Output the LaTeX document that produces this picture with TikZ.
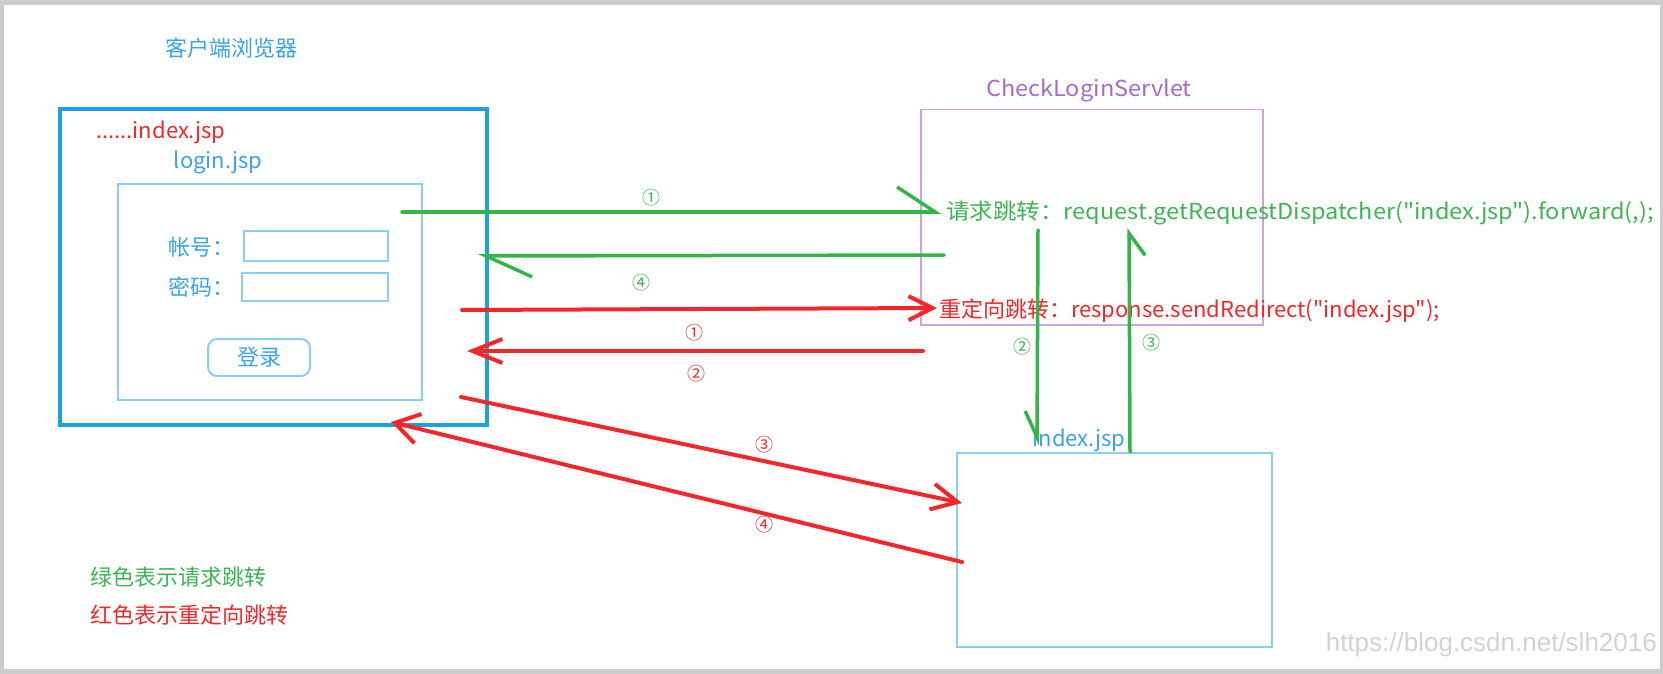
\documentclass[tikz,border=0pt]{standalone}
\usepackage{fontspec}
\setmainfont{Noto Sans CJK SC}[Ligatures=TeXOff]
\newfontfamily\anchofont{Noto Sans CJK SC}[FakeStretch=1.07, Ligatures=TeXOff]
\newfontfamily\marcafont{Liberation Sans}
\usetikzlibrary{arrows.meta,positioning}

\definecolor{azul}{HTML}{1BA1E2}
\definecolor{celeste}{HTML}{8ACFF2}
\definecolor{textoazul}{HTML}{3BA3E3}
\definecolor{rojo}{HTML}{F2272B}
\definecolor{verde}{HTML}{35B449}
\definecolor{textoverde}{HTML}{3DB552}
\definecolor{morado}{HTML}{CFA3DF}
\definecolor{textomorado}{HTML}{A969C6}

\tikzset{
  caja/.style={draw, inner sep=0pt, anchor=north west},
  texto/.style={inner sep=0pt, font=\fontsize{22}{26}\selectfont},
  ancho/.style={inner sep=0pt, font=\anchofont\fontsize{22}{26}\selectfont},
  numero/.style={inner sep=0pt, font=\fontsize{18}{20}\selectfont},
  verdeflecha/.style={draw=verde, line width=3.5pt, line cap=round},
  rojoflecha/.style={draw=rojo, line width=4pt, line cap=round}
}

\begin{document}
\begin{tikzpicture}[x=1pt, y=-1pt]
% Marco
\useasboundingbox (0,0) rectangle (1663,674);
\fill[gray!40] (0,0) rectangle (1663,674);
\fill[white] (4,5) rectangle (1660,669);

% Navegador
\node [texto, text=textoazul] (titulo) at (231,48) {客户端浏览器};
\node [caja, draw=azul, line width=4pt, minimum width=427, minimum height=316] (nav) at (58,107) {};
\node [texto, text=rojo, anchor=west] (ruta) at (96,132) {......index.jsp};
\node [texto, text=textoazul] (loginlbl) at (218,162) {login.jsp};
\node [caja, draw=celeste, line width=1.5pt, minimum width=304, minimum height=216] (login) at (117,183) {};

% Formulario
\node [texto, text=textoazul, anchor=west] (cuentalbl) at (168,247) {帐号：};
\node [caja, draw=celeste, line width=2pt, minimum width=144, minimum height=30] (cuenta) at (243,230) {};
\node [texto, text=textoazul, anchor=west] (clavelbl) at (168,287) {密码：};
\node [caja, draw=celeste, line width=2pt, minimum width=146, minimum height=28] (clave) at (241,272) {};
\node [caja, draw=celeste, line width=2pt, rounded corners=9pt, minimum width=102, minimum height=37] (boton) at (207,338) {};
\node [texto, text=textoazul] (botonlbl) at (boton.center) {登录};

% Servlet
\node [ancho, text=textomorado] (servletlbl) at (1089,90) {CheckLoginServlet};
\node [caja, draw=morado, line width=1.5pt, minimum width=342, minimum height=215] (servlet) at (920,109) {};
\node [ancho, text=textoverde, anchor=west] (reenvio) at (946,213) {请求跳转：request.getRequestDispatcher("index.jsp").forward(,);};
\node [texto, text=rojo, anchor=west] (redir) at (939,311) {重定向跳转：response.sendRedirect("index.jsp");};

% index.jsp
\node [texto, text=textoazul] (idxlbl) at (1079,440) {index.jsp};
\node [caja, draw=celeste, line width=1.8pt, minimum width=315, minimum height=194] (idx) at (956,452) {};

% Puntos de las flechas
\coordinate (g1a) at (402,212); \coordinate (g1b) at (941,212);
\coordinate (g4a) at (944,255); \coordinate (g4b) at (478,256);
\coordinate (g2a) at (1038,230); \coordinate (g2b) at (1037,445);
\coordinate (g3a) at (1130,452); \coordinate (g3b) at (1129,228);
\coordinate (r1a) at (462,310); \coordinate (r1b) at (937,308);
\coordinate (r2a) at (923,351); \coordinate (r2b) at (467,351);
\coordinate (r3a) at (461,397); \coordinate (r3b) at (962,503);
\coordinate (r4a) at (962,562); \coordinate (r4b) at (391,422);

% Flechas verdes (reenvio)
\draw [verdeflecha, -{Straight Barb[left, length=38pt, width=50pt]}] (g1a) -- (g1b);
\draw [verdeflecha, -{Straight Barb[left, length=46pt, width=42pt]}] (g4a) -- (g4b);
\draw [verdeflecha, -{Straight Barb[right, length=26pt, width=24pt]}] (g2a) -- (g2b);
\draw [verdeflecha, -{Straight Barb[right, length=22pt, width=32pt]}] (g3a) -- (g3b);

% Flechas rojas (redireccion)
\draw [rojoflecha, -{Straight Barb[length=24pt, width=24pt]}] (r1a) -- (r1b);
\draw [rojoflecha, -{Straight Barb[length=30pt, width=24pt]}] (r2a) -- (r2b);
\draw [rojoflecha, -{Straight Barb[length=26pt, width=26pt]}] (r3a) -- (r3b);
\draw [rojoflecha, -{Straight Barb[length=24pt, width=30pt]}] (r4a) -- (r4b);

% Numeros
\node [numero, text=verde] (n1v) at (651,198) {①};
\node [numero, text=verde] (n4v) at (641,283) {④};
\node [numero, text=rojo] (n1r) at (694,333) {①};
\node [numero, text=rojo] (n2r) at (696,374) {②};
\node [numero, text=rojo] (n3r) at (764,445) {③};
\node [numero, text=rojo] (n4r) at (764,525) {④};
\node [numero, text=verde] (n2v) at (1022,347) {②};
\node [numero, text=verde] (n3v) at (1151,343) {③};

% Leyenda
\node [texto, text=textoverde, anchor=west] (leyverde) at (90,577) {绿色表示请求跳转};
\node [texto, text=rojo, anchor=west] (leyrojo) at (90,615) {红色表示重定向跳转};

% Marca de agua
\node [inner sep=0pt, anchor=east, text=gray!35, font=\marcafont\fontsize{26}{28}\selectfont] (marca) at (1657,645) {https://blog.csdn.net/slh2016};
\end{tikzpicture}
\end{document}
